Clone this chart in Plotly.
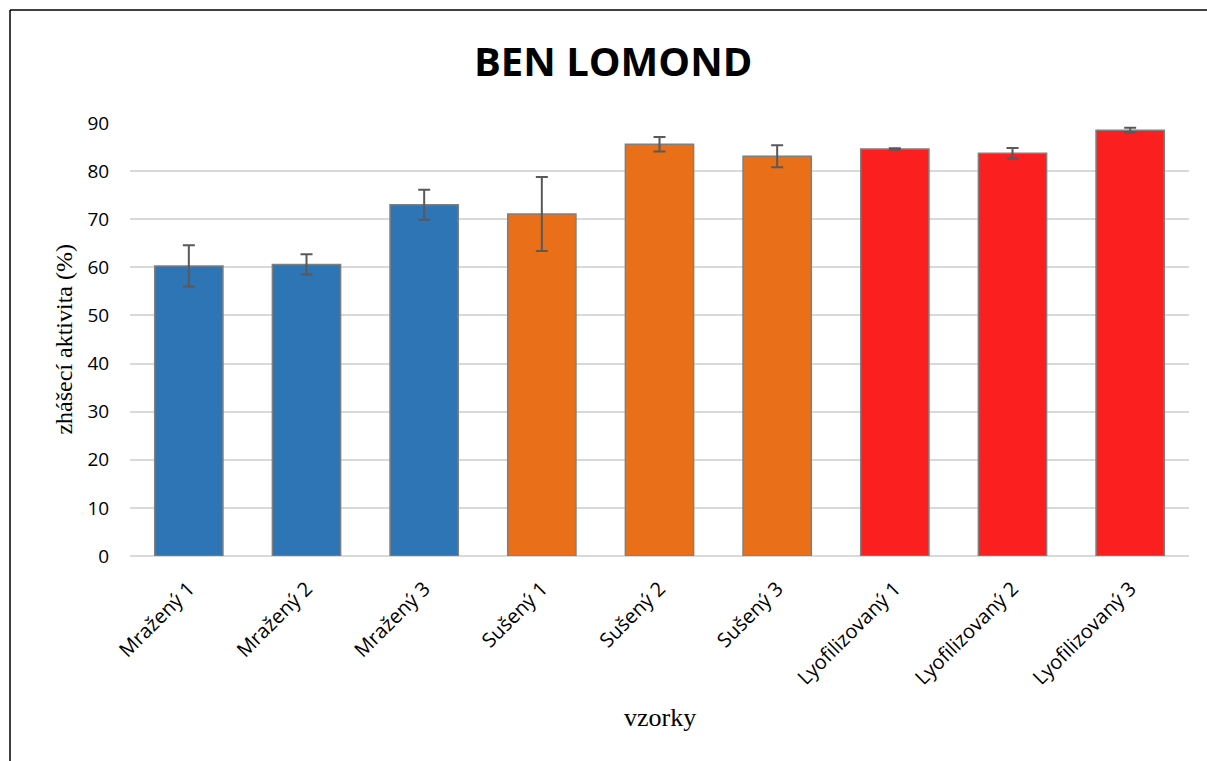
import plotly.graph_objects as go

categories = ["Mražený 1", "Mražený 2", "Mražený 3", "Sušený 1", "Sušený 2", "Sušený 3",
              "Lyofilizovaný 1", "Lyofilizovaný 2", "Lyofilizovaný 3"]
values = [60.3, 60.6, 73.0, 71.1, 85.6, 83.1, 84.6, 83.7, 88.5]
errors = [4.3, 2.1, 3.1, 7.7, 1.5, 2.3, 0.15, 1.1, 0.5]
colors = ["#2E75B6"] * 3 + ["#E97019"] * 3 + ["#FC1F1F"] * 3
y_ticks = [0, 10, 20, 30, 40, 50, 60, 70, 80, 90]

fig = go.Figure()
fig.add_trace(go.Bar(
    x=categories, y=values,
    marker=dict(color=colors, line=dict(color="#7F7F7F", width=1.5)),
    width=0.58,
    error_y=dict(type="data", array=errors, visible=True, color="#595959", thickness=2, width=6),
    showlegend=False,
))

# plot area: x 130..1189, y 123..556 (page pixels)
fig.update_layout(
    width=1207, height=761,
    margin=dict(l=130, r=18, t=123, b=205),
    paper_bgcolor="white", plot_bgcolor="white",
    title=dict(text="<b>BEN LOMOND</b>", x=0.508, xanchor="center", y=0.919, yanchor="middle",
               font=dict(family="Open Sans, Liberation Sans, sans-serif", size=40, color="black")),
    xaxis=dict(
        tickangle=-45, tickfont=dict(family="Open Sans, sans-serif", size=20, color="black"),
        showline=False, showgrid=False, ticks="outside", ticklen=12, tickcolor="rgba(0,0,0,0)",
    ),
    yaxis=dict(
        range=[0, 90], tickvals=y_ticks,
        tickfont=dict(family="Open Sans, sans-serif", size=19, color="black"),
        gridcolor="#D9D9D9", gridwidth=1.5, zeroline=True, zerolinecolor="#D9D9D9", zerolinewidth=1.5,
        showline=False, ticks="outside", ticklen=16, tickcolor="rgba(0,0,0,0)",
    ),
    annotations=[
        dict(text="vzorky", xref="paper", yref="paper", x=0.5, y=-0.374, xanchor="center", yanchor="middle",
             showarrow=False, font=dict(family="Liberation Serif, serif", size=26, color="black")),
        dict(text="zhášecí aktivita (%)", xref="paper", yref="paper", x=-0.0632, y=0.5, xanchor="center",
             yanchor="middle", textangle=-90, showarrow=False,
             font=dict(family="Liberation Serif, serif", size=24, color="black")),
    ],
    shapes=[
        dict(type="line", xref="paper", yref="paper", x0=-0.1133, x1=1.2, y0=1.261, y1=1.261,
             line=dict(color="black", width=1.5)),
        dict(type="line", xref="paper", yref="paper", x0=-0.1133, x1=-0.1133, y0=-0.6, y1=1.261,
             line=dict(color="black", width=1.5)),
    ],
)

fig.write_html("out.html", config={"displayModeBar": False},
               post_script="document.body.style.margin='0';document.body.style.overflow='hidden';")
